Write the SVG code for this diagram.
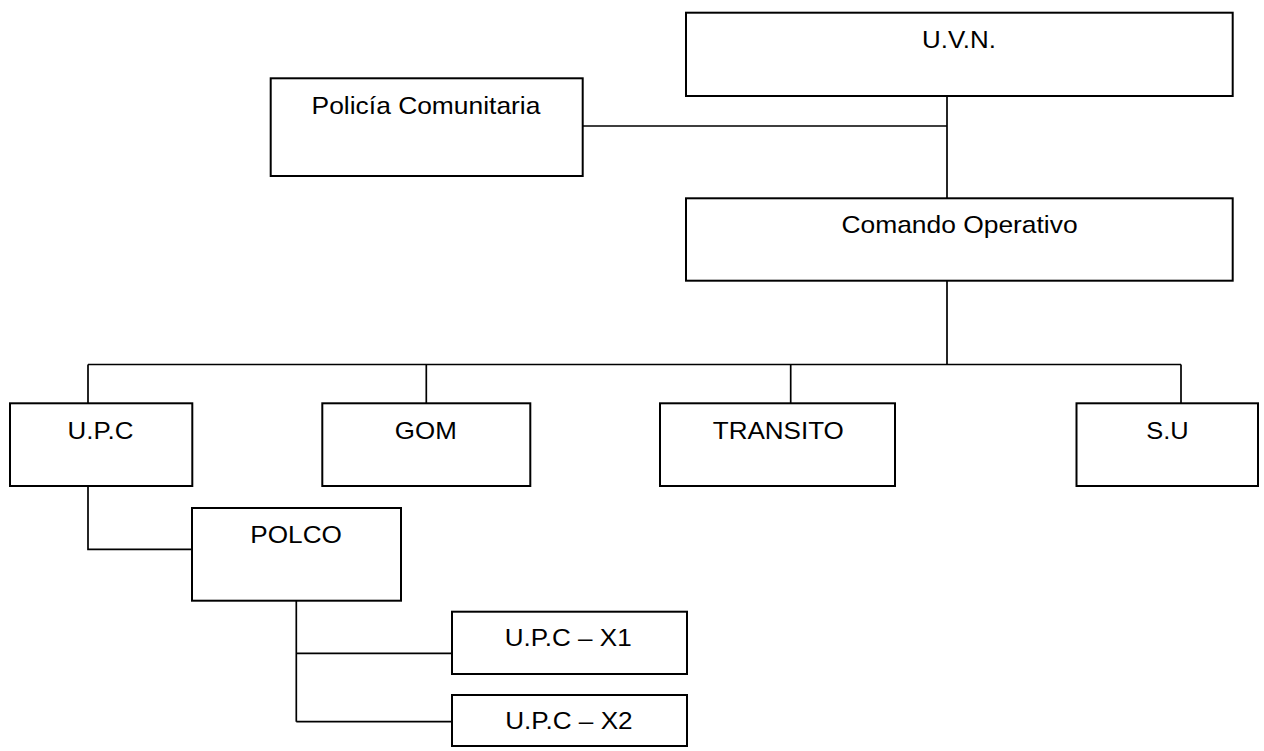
<svg xmlns="http://www.w3.org/2000/svg" width="1264" height="751" viewBox="0 0 1264 751">
<style>
.box{fill:#fff;stroke:#000;stroke-width:2}
.ln{fill:none;stroke:#000;stroke-width:1.7}
.t{font-family:"Liberation Sans",Arial,sans-serif;font-size:24px;fill:#000;text-anchor:middle}
</style>
<rect width="1264" height="751" fill="#fff"/>
<g id="connectors">
<path class="ln" d="M947 96V198M583 126H947"/>
<path class="ln" d="M947 281V364.5M88 364.5H1181M88 364.5V403M426.3 364.5V403M790.7 364.5V403M1181 364.5V403"/>
<path class="ln" d="M88 486V549.3H192"/>
<path class="ln" d="M296.3 601V721.7M296.3 653.3H452M296.3 721.7H452"/>
</g>
<g id="uvn"><rect class="box" x="686" y="12.7" width="546.7" height="83.3"/><text class="t" transform="translate(959 48.3) scale(1.08 1)">U.V.N.</text></g>
<g id="policia"><rect class="box" x="270.7" y="78.3" width="312" height="97.7"/><text class="t" transform="translate(426 114) scale(1.1 1)">Policía Comunitaria</text></g>
<g id="comando"><rect class="box" x="686" y="198.3" width="546.7" height="82.4"/><text class="t" transform="translate(959.5 233.3) scale(1.1 1)">Comando Operativo</text></g>
<g id="upc"><rect class="box" x="10" y="403.3" width="182.3" height="82.7"/><text class="t" transform="translate(100.5 439.3) scale(1.08 1)">U.P.C</text></g>
<g id="gom"><rect class="box" x="322.3" y="403.3" width="208" height="82.7"/><text class="t" transform="translate(425.8 439.3) scale(1.08 1)">GOM</text></g>
<g id="transito"><rect class="box" x="660" y="403.3" width="235" height="82.7"/><text class="t" transform="translate(778.3 439.3) scale(1.085 1)">TRANSITO</text></g>
<g id="su"><rect class="box" x="1076.5" y="403.3" width="181.5" height="82.7"/><text class="t" transform="translate(1167.5 439.3) scale(1.06 1)">S.U</text></g>
<g id="polco"><rect class="box" x="192" y="508" width="209" height="92.7"/><text class="t" transform="translate(296.1 542.7) scale(1.09 1)">POLCO</text></g>
<g id="upcx1"><rect class="box" x="452" y="611.7" width="235" height="62.3"/><text class="t" transform="translate(568.2 646) scale(1.085 1)">U.P.C – X1</text></g>
<g id="upcx2"><rect class="box" x="452" y="695" width="235" height="51"/><text class="t" transform="translate(568.9 729.3) scale(1.09 1)">U.P.C – X2</text></g>
</svg>
